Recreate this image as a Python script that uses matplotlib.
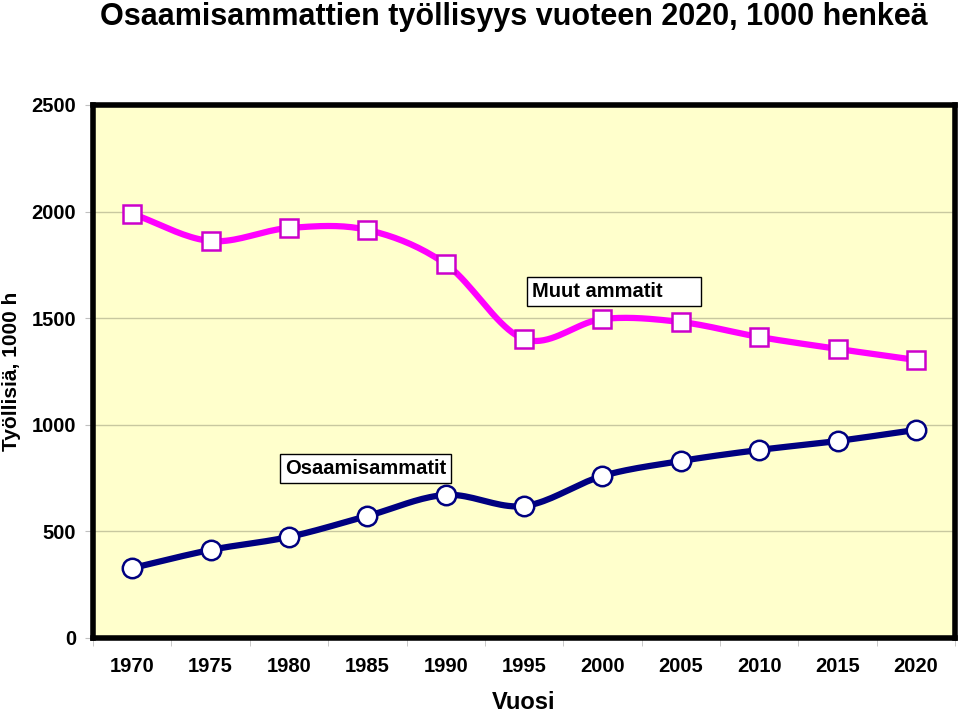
import numpy as np
import matplotlib
matplotlib.use("Agg")
from matplotlib import pyplot as plt

plt.rcParams["font.family"] = ["Liberation Sans", "DejaVu Sans"]
plt.rcParams["font.weight"] = "bold"
plt.rcParams["axes.labelweight"] = "bold"

# data
years = ["1970", "1975", "1980", "1985", "1990", "1995", "2000", "2005", "2010", "2015", "2020"]
osaamis = [328, 413, 474, 572, 671, 619, 760, 830, 882, 924, 976]
muut = [1990, 1862, 1923, 1914, 1754, 1402, 1496, 1482, 1412, 1356, 1304]


def smooth(x, y, n=20):
    # catmull-rom curve through the points, like Excel's smoothed line
    x = np.asarray(x, float)
    y = np.asarray(y, float)
    px = np.concatenate([[2 * x[0] - x[1]], x, [2 * x[-1] - x[-2]]])
    py = np.concatenate([[2 * y[0] - y[1]], y, [2 * y[-1] - y[-2]]])
    xs, ys = [], []
    t = np.linspace(0, 1, n, endpoint=False)
    for i in range(1, len(px) - 2):
        for p, out in ((px, xs), (py, ys)):
            p0, p1, p2, p3 = p[i - 1], p[i], p[i + 1], p[i + 2]
            out.extend(0.5 * ((2 * p1) + (-p0 + p2) * t
                              + (2 * p0 - 5 * p1 + 4 * p2 - p3) * t ** 2
                              + (-p0 + 3 * p1 - 3 * p2 + p3) * t ** 3))
    xs.append(x[-1])
    ys.append(y[-1])
    return xs, ys


fig = plt.figure(figsize=(9.6, 7.15), dpi=100)
ax = fig.add_axes([0.0969, 0.1077, 0.898, 0.7455])
ax.set_facecolor("#ffffcc")

x = np.arange(len(years))
sx, sy = smooth(x, muut)
ax.plot(sx, sy, color="#ff00ff", lw=4.5, zorder=3, solid_capstyle="round")
ax.plot(x, muut, ls="none", marker="s", ms=13, mfc="white", mec="#cc00cc", mew=1.8, zorder=4)
sx, sy = smooth(x, osaamis)
ax.plot(sx, sy, color="#000080", lw=4.5, zorder=3, solid_capstyle="round")
ax.plot(x, osaamis, ls="none", marker="o", ms=14, mfc="white", mec="#000080", mew=1.8, zorder=4)

ax.set_xlim(-0.5, len(years) - 0.5)
ax.set_ylim(0, 2500)
ax.set_yticks([0, 500, 1000, 1500, 2000, 2500])
ax.set_xticks(x)
ax.set_xticklabels(years)
ax.set_xticks(np.arange(-0.5, len(years)), minor=True)
ax.tick_params(axis="x", which="major", length=0, labelsize=14.5, pad=14)
ax.tick_params(axis="x", which="minor", length=6, color="#c0c0c0", direction="out")
ax.tick_params(axis="y", length=6, color="#c0c0c0", labelsize=14.5, pad=6)
ax.grid(axis="y", color="#c8c8a0", lw=1)
ax.set_axisbelow(True)
for s in ax.spines.values():
    s.set_linewidth(4)
    s.set_color("black")

ax.set_xlabel("Vuosi", fontsize=17)
ax.xaxis.set_label_coords(0.5, -0.1)
ax.set_ylabel("Työllisiä, 1000 h", fontsize=15)
ax.yaxis.set_label_coords(-0.083, 0.5)

fig.text(0.104, 0.997, "Osaamisammattien työllisyys vuoteen 2020, 1000 henkeä",
         fontsize=22, fontweight="bold", va="top")

box = dict(boxstyle="square,pad=0.25", fc="white", ec="black", lw=1)
ax.text(5.1, 1627, "Muut ammatit      ", fontsize=14.5, fontweight="bold", va="center", bbox=box, zorder=5)
ax.text(1.95, 797, "Osaamisammatit", fontsize=14.5, fontweight="bold", va="center", bbox=box, zorder=5)

fig.savefig("out.png")
